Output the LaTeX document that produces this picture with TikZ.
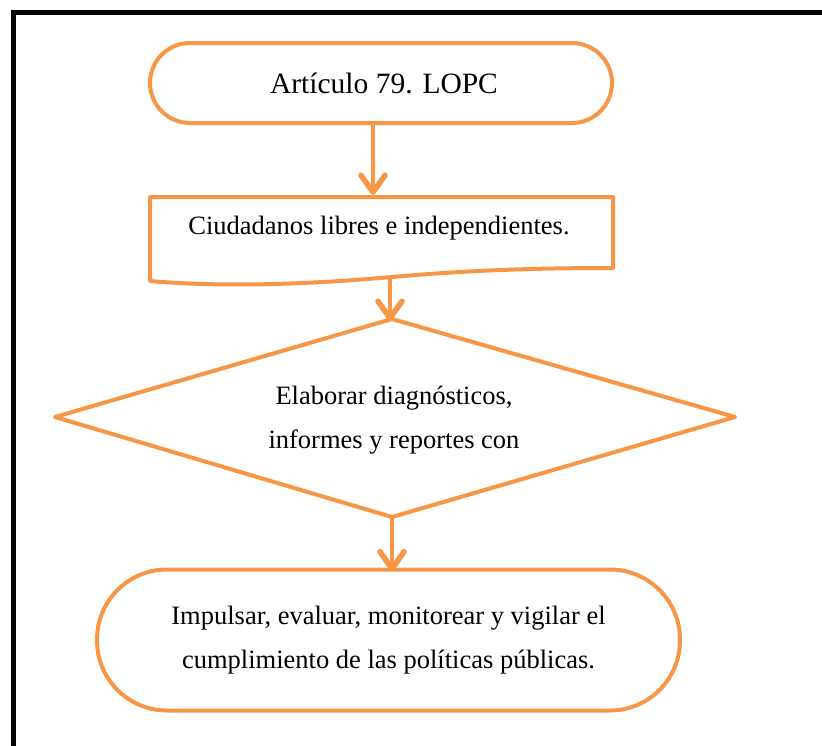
\documentclass[tikz,border=0pt]{standalone}
\usepackage{fontspec}
\setmainfont{Liberation Serif}
\usetikzlibrary{arrows.meta}
\definecolor{orng}{HTML}{F79646}
\tikzset{
  shp/.style={draw=orng, line width=4pt, outer sep=0pt, inner sep=0pt},
  term/.style={shp, rectangle, align=center},
  conn/.style={draw=orng, line width=4pt, -{Straight Barb[length=17pt,width=24pt,line width=5.5pt,round]}},
  txt/.style={font=\fontsize{26.5}{44}\selectfont, align=center, text=black},
}
\begin{document}
\begin{tikzpicture}[x=1pt,y=-1pt]
\useasboundingbox (0,0) rectangle (822,745);
% frame
\draw[line width=5pt, black] (850,12.5) -- (13,12.5) -- (13,780);
% top terminator
\node[term, minimum width=462pt, minimum height=80pt, rounded corners=40pt,
      font=\fontsize{29.5}{35}\selectfont] (top) at (381,83) {\hspace{6pt}Artículo 79. LOPC};
% document shape
\coordinate (dtl) at (150,197);
\coordinate (dtr) at (613,197);
\coordinate (dbr) at (613,268);
\coordinate (dbl) at (150,281);
\draw[draw=orng, line width=4pt, line join=round]
  (dbl) -- (dtl) -- (dtr) -- (dbr)
  .. controls (540,268) and (470,270) .. (392,277)
  .. controls (300,285) and (220,287) .. (dbl) -- cycle;
\node[txt] (doc) at (379,228) {Ciudadanos libres e independientes.};
\coordinate (docb) at (390,278);
\coordinate (doct) at (373,195);
% diamond
\coordinate (dt) at (392,319);
\coordinate (dl) at (55,417);
\coordinate (dr) at (735,417);
\coordinate (db) at (392,517);
\draw[draw=orng, line width=4pt, line join=round] (dt) -- (dr) -- (db) -- (dl) -- cycle;
\node[txt] (dec) at (394,420) {Elaborar diagnósticos,\\informes y reportes con};
% bottom terminator
\node[term, minimum width=583pt, minimum height=141pt, rounded corners=70pt, txt] (bot) at (388.5,640)
  {Impulsar, evaluar, monitorear y vigilar el\\cumplimiento de las políticas públicas.};
% connectors
\draw[conn] (top.south -| doct) -- (doct);
\draw[conn] (docb) -- ([yshift=-2pt]docb |- dt);
\draw[conn] (db) -- ([yshift=-2pt]bot.north -| db);
\end{tikzpicture}
\end{document}
